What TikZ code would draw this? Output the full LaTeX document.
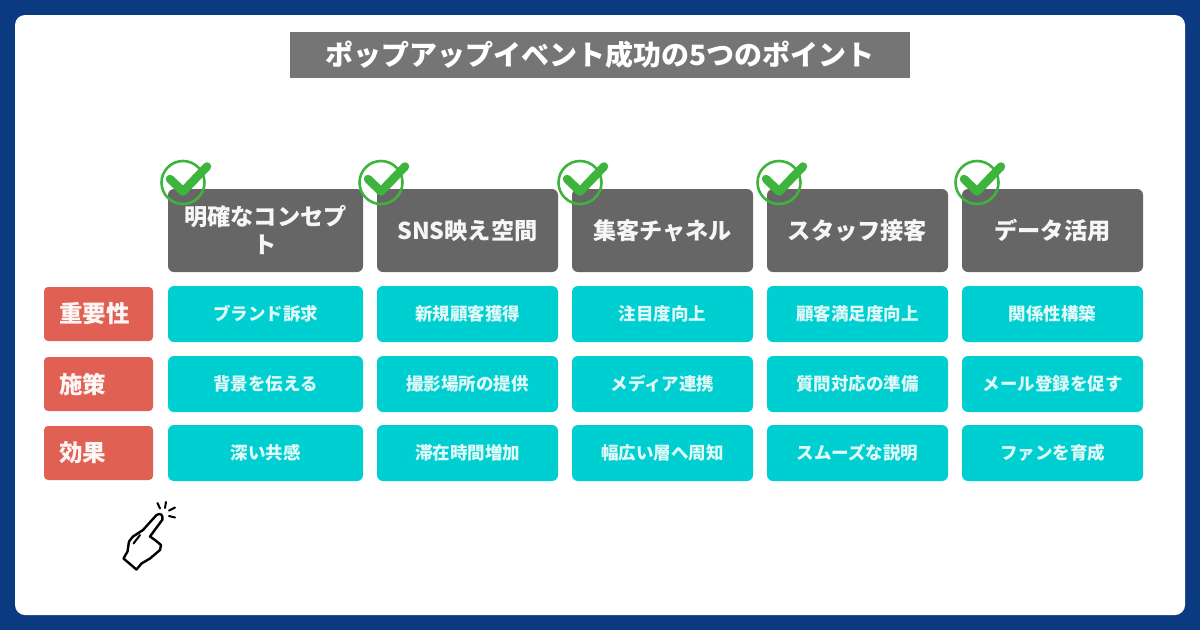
\documentclass[tikz,border=0pt]{standalone}
\usepackage{fontspec}
\setmainfont{Noto Sans CJK JP}
\usetikzlibrary{shapes.geometric}
\definecolor{bgblue}{RGB}{11,58,128}
\definecolor{barGray}{RGB}{117,117,117}
\definecolor{headGray}{RGB}{102,102,102}
\definecolor{cellTeal}{RGB}{0,207,209}
\definecolor{tagRed}{RGB}{224,96,84}
\definecolor{okGreen}{RGB}{61,181,61}
\tikzset{
  titlebar/.style={fill=barGray,text=white,font=\fontsize{28}{32}\bfseries,inner sep=0pt,minimum width=620pt,minimum height=46pt},
  headbox/.style={fill=headGray,text=white!94!headGray,rounded corners=6pt,align=center,inner sep=0pt,minimum height=83pt,font=\fontsize{23.2}{28}\bfseries},
  cellbox/.style={fill=cellTeal,text=white!88!cellTeal,rounded corners=6pt,align=center,inner sep=0pt,minimum height=56pt,font=\fontsize{17.5}{20}\bfseries},
  tagbox/.style={fill=tagRed,text=white!94!tagRed,rounded corners=4pt,align=left,inner sep=0pt,text width=79pt,minimum width=109pt,minimum height=54pt,font=\fontsize{23.5}{26}\bfseries},
  okmark/.pic={
    \draw[okGreen,line width=2.6pt] (0,0) circle (21.5);
    \draw[okGreen,line width=8.5pt,line cap=round,line join=round] (-13,-3.5) -- (0,9) -- (24,-16);
  }
}

\begin{document}
\begin{tikzpicture}[x=1pt,y=-1pt]
    \useasboundingbox (0,0) rectangle (1200,630);

    % Define the column centres and the row centres
    \def\xa{265.5}
    \def\xb{467.5}
    \def\xc{662.5}
    \def\xd{857.5}
    \def\xe{1052.5}
    \def\yhead{230.5}
    \def\yone{314}
    \def\ytwo{384}
    \def\ythree{453}

    % -- Background and white card --
    \fill[bgblue] (0,0) rectangle (1200,630);
    \fill[white,rounded corners=10pt] (15,15) rectangle (1185,615);

    % -- Title --
    \node[titlebar] (title) at (600,55) {ポップアップイベント成功の5つのポイント};

    % -- Column heads --
    \node[headbox,minimum width=195pt] (headA) at (\xa,\yhead) {明確なコンセプ\\ト};
    \node[headbox,minimum width=181pt] (headB) at (\xb,\yhead) {SNS映え空間};
    \node[headbox,minimum width=181pt] (headC) at (\xc,\yhead) {集客チャネル};
    \node[headbox,minimum width=181pt] (headD) at (\xd,\yhead) {スタッフ接客};
    \node[headbox,minimum width=181pt] (headE) at (\xe,\yhead) {データ活用};

    % -- Check marks on the head corners --
    \pic at (183,182.5) {okmark};
    \pic at (381,182.5) {okmark};
    \pic at (580,182.5) {okmark};
    \pic at (779,182.5) {okmark};
    \pic at (977,182.5) {okmark};

    % -- Row tags --
    \node[tagbox] (tagOne) at (98.5,\yone) {重要性};
    \node[tagbox] (tagTwo) at (98.5,\ytwo) {施策};
    \node[tagbox] (tagThree) at (98.5,\ythree) {効果};

    % -- Row 1 --
    \node[cellbox,minimum width=195pt] (oneA) at (\xa,\yone) {ブランド訴求};
    \node[cellbox,minimum width=181pt] (oneB) at (\xb,\yone) {新規顧客獲得};
    \node[cellbox,minimum width=181pt] (oneC) at (\xc,\yone) {注目度向上};
    \node[cellbox,minimum width=181pt] (oneD) at (\xd,\yone) {顧客満足度向上};
    \node[cellbox,minimum width=181pt] (oneE) at (\xe,\yone) {関係性構築};

    % -- Row 2 --
    \node[cellbox,minimum width=195pt] (twoA) at (\xa,\ytwo) {背景を伝える};
    \node[cellbox,minimum width=181pt] (twoB) at (\xb,\ytwo) {撮影場所の提供};
    \node[cellbox,minimum width=181pt] (twoC) at (\xc,\ytwo) {メディア連携};
    \node[cellbox,minimum width=181pt] (twoD) at (\xd,\ytwo) {質問対応の準備};
    \node[cellbox,minimum width=181pt] (twoE) at (\xe,\ytwo) {メール登録を促す};

    % -- Row 3 --
    \node[cellbox,minimum width=195pt] (threeA) at (\xa,\ythree) {深い共感};
    \node[cellbox,minimum width=181pt] (threeB) at (\xb,\ythree) {滞在時間増加};
    \node[cellbox,minimum width=181pt] (threeC) at (\xc,\ythree) {幅広い層へ周知};
    \node[cellbox,minimum width=181pt] (threeD) at (\xd,\ythree) {スムーズな説明};
    \node[cellbox,minimum width=181pt] (threeE) at (\xe,\ythree) {ファンを育成};

    % -- Pointing hand --
    \draw[line width=2.4pt,line join=round,line cap=round,fill=white]
      (123.5,558.5) -- (136.5,569.5) -- (141.5,563.5) -- (150,558.5) -- (160,550) -- (161,545)
      -- (155,540) -- (150,536.5) -- (162.5,519.5) .. controls (163,514) and (160,513) .. (156.5,515)
      -- (143,530) -- (133,536.5) -- (129,541.5) -- (127.5,551.5) -- cycle;
    \draw[line width=2pt,line cap=round] (133.5,543.5) -- (140,535);
    \draw[line width=2pt,line cap=round] (157.5,503) -- (160,508.5);
    \draw[line width=2pt,line cap=round] (166,502) -- (165,508);
    \draw[line width=2pt,line cap=round] (175,507.5) -- (169,510.5);
    \draw[line width=2pt,line cap=round] (175,517.5) -- (169,516);

\end{tikzpicture}
\end{document}
